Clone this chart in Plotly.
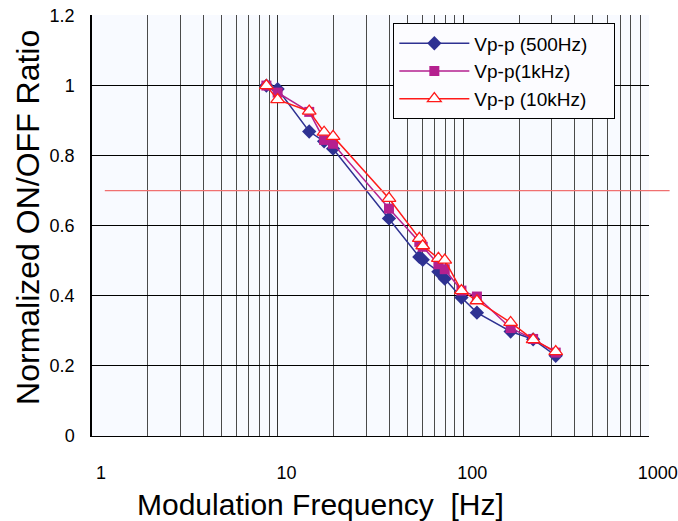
import plotly.graph_objects as go

# ---- data ----
freq_hz = [8.7, 10, 14.8, 17.8, 19.9, 39.8, 58, 60.5, 73.5, 79.5, 97.8, 118.5, 180, 238, 315]
vpp_500hz = [1.0, 0.99, 0.869, 0.841, 0.82, 0.621, 0.511, 0.503, 0.469, 0.449, 0.395, 0.352, 0.298, 0.276, 0.229]
vpp_1khz = [1.0, 0.98, 0.925, 0.845, 0.834, 0.649, 0.554, 0.54, 0.49, 0.476, 0.415, 0.398, 0.308, 0.277, 0.238]
vpp_10khz = [1.0, 0.96, 0.927, 0.867, 0.855, 0.678, 0.564, 0.543, 0.507, 0.502, 0.415, 0.386, 0.324, 0.275, 0.241]
series_names = ["Vp-p (500Hz)", "Vp-p(1kHz)", "Vp-p (10kHz)"]
x_ticks = [1, 10, 100, 1000]
x_tick_labels = ["1", "10", "100", "1000"]
y_ticks = [0, 0.2, 0.4, 0.6, 0.8, 1.0, 1.2]
y_tick_labels = ["0", "0.2", "0.4", "0.6", "0.8", "1", "1.2"]
reference_level = 0.7

FONT = "Liberation Sans, Arial, sans-serif"
PAD = "\u00a0"

fig = go.Figure()
fig.add_trace(go.Scatter(
    x=freq_hz, y=vpp_500hz, name=series_names[0] + PAD * 4, mode="lines+markers",
    line=dict(color="#2e3192", width=1.5),
    marker=dict(symbol="diamond", size=11, color="#2e3192"),
))
fig.add_trace(go.Scatter(
    x=freq_hz, y=vpp_1khz, name=series_names[1] + PAD * 4, mode="lines+markers",
    line=dict(color="#b5208f", width=1.5),
    marker=dict(symbol="square", size=10, color="#b5208f"),
))
fig.add_trace(go.Scatter(
    x=freq_hz, y=vpp_10khz, name=series_names[2] + PAD * 4, mode="lines+markers",
    line=dict(color="#ff1a1a", width=1.5),
    marker=dict(symbol="triangle-up", size=12, color="white",
                line=dict(color="#ff1a1a", width=1.3)),
))

fig.add_shape(type="line", xref="paper", yref="y", x0=0.023, x1=1.037,
              y0=reference_level, y1=reference_level,
              line=dict(color="#f07070", width=1.2))

fig.update_layout(
    width=678, height=521,
    margin=dict(l=92, r=29, t=15, b=85, autoexpand=False),
    paper_bgcolor="white",
    plot_bgcolor="#f8faff",
    font=dict(family=FONT, size=18, color="black"),
    showlegend=True,
    legend=dict(
        x=0.541, y=0.98, xanchor="left", yanchor="top",
        bgcolor="#fcfcff", bordercolor="black", borderwidth=1,
        font=dict(family=FONT, size=19),
        itemwidth=70, tracegroupgap=0,
    ),
    xaxis=dict(
        type="log", range=[0, 3.0008], automargin=False,
        tickvals=x_ticks, ticktext=x_tick_labels,
        showgrid=True, gridcolor="#333333", gridwidth=1,
        minor=dict(dtick="D1", showgrid=True, gridcolor="#4a4a4a", gridwidth=1, ticks=""),
        showline=True, linecolor="black", linewidth=1,
        ticks="", ticklabelstandoff=20, ticklabelshift=9,
        ticklabeloverflow="allow",
        zeroline=False,
    ),
    yaxis=dict(
        range=[0, 1.2015], tickvals=y_ticks, ticktext=y_tick_labels, automargin=False,
        showgrid=True, gridcolor="black", gridwidth=1,
        showline=True, linecolor="black", linewidth=1.5,
        ticks="", ticklabelstandoff=12,
        ticklabeloverflow="allow",
        zeroline=False,
    ),
)

fig.add_annotation(text="Modulation Frequency  [Hz]", xref="paper", yref="paper",
                   x=(320 - 92) / 557, y=-(505 - 436.5) / 421.8,
                   showarrow=False, font=dict(family=FONT, size=30),
                   xanchor="center", yanchor="middle")
fig.add_annotation(text="Normalized ON/OFF Ratio", xref="paper", yref="paper",
                   x=-(92 - 28) / 557, y=(436.5 - 218) / 421.8, textangle=-90,
                   showarrow=False, font=dict(family=FONT, size=32),
                   xanchor="center", yanchor="middle")

fig.write_html(
    "out.html",
    config={"displayModeBar": False},
    post_script="document.body.style.margin='0';document.body.style.overflow='hidden';",
)
